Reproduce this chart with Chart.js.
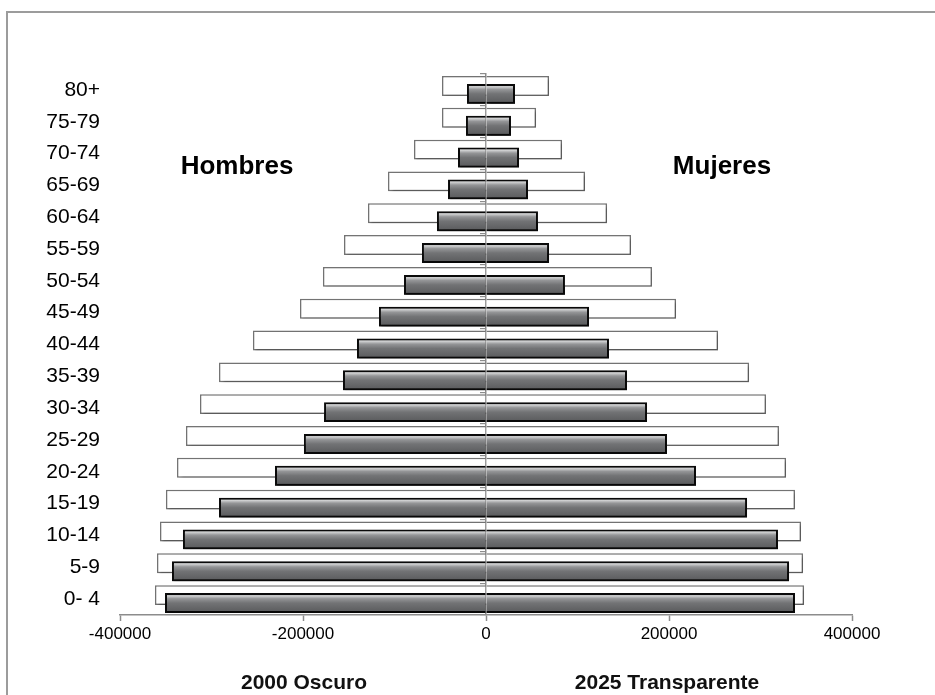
<!DOCTYPE html>
<html>
<head>
<meta charset="utf-8">
<script src="https://cdn.jsdelivr.net/npm/chart.js@4.4.1/dist/chart.umd.min.js"></script>
<style>
  html, body { margin: 0; padding: 0; background: #fff; overflow: hidden; }
  #wrap { position: relative; width: 935px; height: 695px; }
  #frame {
    position: absolute; left: 6px; top: 11px; width: 1200px; height: 1200px;
    border-left: 2px solid #9c9c9c; border-top: 2px solid #9c9c9c;
  }
  canvas { position: absolute; left: 0; top: 0; }
  .lbl {
    position: absolute; transform: translate(-50%, -50%);
    font-family: "Liberation Sans", Arial, sans-serif; font-weight: bold;
    color: #000; line-height: 1; white-space: nowrap;
  }
</style>
</head>
<body>
<div id="wrap">
  <div id="frame"></div>
  <canvas id="pyramid" width="935" height="695"></canvas>
  <div class="lbl" style="left:237px; top:165px; font-size:26px;">Hombres</div>
  <div class="lbl" style="left:722px; top:165px; font-size:26px;">Mujeres</div>
  <div class="lbl" style="left:304px; top:681px; font-size:21px; color:#111;">2000 Oscuro</div>
  <div class="lbl" style="left:667px; top:681px; font-size:21px; color:#111;">2025 Transparente</div>
</div>

<script>
/* ================= DATA ================= */
const ages = ["80+", "75-79", "70-74", "65-69", "60-64", "55-59", "50-54", "45-49",
              "40-44", "35-39", "30-34", "25-29", "20-24", "15-19", "10-14", "5-9", "0- 4"];

// 2000 (dark bars)
const men2000   = [20800, 21900, 30600, 41500, 53600, 70000, 89600, 117000,
                   141000, 156300, 177000, 199000, 230600, 291800, 331200, 343200, 350800];
const women2000 = [31700, 27300, 36100, 45900, 56800, 68900, 86300, 112600,
                   134400, 154100, 176000, 197800, 229500, 285300, 319100, 331200, 337700];

// 2025 (white bars)
const men2025   = [48100, 48100, 78700, 107100, 129000, 155200, 178200, 203300,
                   254700, 291800, 312600, 327900, 337700, 349800, 356300, 359600, 361800];
const women2025 = [68900, 54700, 83100, 108200, 132300, 158500, 181400, 207700,
                   253600, 287500, 306000, 320200, 327900, 337700, 344300, 346500, 347600];

const xTicks = [-400000, -200000, 0, 200000, 400000];

/* ================= STYLE ================= */
const CAT_PCT = 0.5;
const BAR_PCT = 2.5;
const AXIS_GRAY = "#8c8c8c";

Chart.defaults.font.family = "'Liberation Sans', Arial, sans-serif";
Chart.defaults.color = "#000";

// vertical metallic gradient for each dark bar (lower slot of the group)
function darkFill(c) {
    const chart = c.chart;
    const area = chart.chartArea;
    if (!area || !chart.scales.y) return "#6e6f71";
    const band = (area.bottom - area.top) / ages.length;
    const chunk = band * CAT_PCT / 2;
    const center = chart.scales.y.getPixelForValue(c.dataIndex) + chunk / 2;
    const half = chunk * BAR_PCT / 2;
    const g = chart.ctx.createLinearGradient(0, center - half, 0, center + half);
    g.addColorStop(0.00, "#7f8082");
    g.addColorStop(0.14, "#cfd0d1");
    g.addColorStop(0.28, "#949597");
    g.addColorStop(0.50, "#727375");
    g.addColorStop(1.00, "#58595b");
    return g;
}

/* ================= PLUGINS ================= */
function setShadow(ctx) {
    ctx.shadowColor = "rgba(0,0,0,0.3)";
    ctx.shadowOffsetX = 2;
    ctx.shadowOffsetY = 2;
    ctx.shadowBlur = 3;
}

const shadows = {
    id: "shadows",
    beforeDatasetDraw(chart) {
        chart.ctx.save();
        setShadow(chart.ctx);
    },
    afterDatasetDraw(chart) {
        chart.ctx.restore();
    },
    // dark bars sit on top of the white ones
    afterDatasetsDraw(chart) {
        const ctx = chart.ctx;
        [2, 3].forEach(i => {
            ctx.save();
            setShadow(ctx);
            chart.getDatasetMeta(i).controller.draw();
            ctx.restore();
        });
    }
};

/* ================= CHART ================= */
const white = {
    stack: "y2025",
    backgroundColor: "#ffffff",
    borderColor: "#747474",
    borderWidth: 1.5,
    categoryPercentage: CAT_PCT,
    barPercentage: BAR_PCT
};
const dark = {
    stack: "y2000",
    backgroundColor: darkFill,
    borderColor: "#0a0a0a",
    borderWidth: 2,
    categoryPercentage: CAT_PCT,
    barPercentage: BAR_PCT
};

new Chart(document.getElementById("pyramid"), {
    type: "bar",
    data: {
        labels: ages,
        datasets: [
            { ...white, label: "2025 Hombres", data: men2025.map(v => -v) },
            { ...white, label: "2025 Mujeres", data: women2025 },
            { ...dark,  label: "2000 Hombres", data: men2000.map(v => -v) },
            { ...dark,  label: "2000 Mujeres", data: women2000 }
        ]
    },
    options: {
        indexAxis: "y",
        responsive: false,
        animation: false,
        layout: { padding: { top: 74, right: 83, bottom: 50, left: 0 } },
        plugins: { legend: { display: false }, tooltip: { enabled: false } },
        scales: {
            x: {
                type: "linear",
                stacked: true,
                min: xTicks[0],
                max: xTicks[xTicks.length - 1],
                afterBuildTicks: s => { s.ticks = xTicks.map(v => ({ value: v })); },
                afterFit: s => { s.height = 30; },
                ticks: {
                    font: { size: 17 },
                    color: "#000",
                    padding: 3,
                    maxRotation: 0,
                    callback: v => String(v)
                },
                grid: {
                    drawOnChartArea: false,
                    color: AXIS_GRAY,
                    tickLength: 6,
                    tickWidth: 1.5
                },
                border: { color: AXIS_GRAY, width: 1.5 }
            },
            y: {
                type: "category",
                stacked: true,
                offset: true,
                afterFit: s => { s.width = 120; },
                grid: { display: false, drawTicks: false },
                border: { display: false },
                ticks: { font: { size: 21 }, color: "#000", padding: 20 }
            },
            y2: {
                type: "category",
                labels: ages,
                position: { x: 0 },
                offset: true,
                z: 1,
                ticks: { display: false },
                grid: {
                    offset: true,
                    drawOnChartArea: false,
                    color: AXIS_GRAY,
                    tickLength: 5,
                    lineWidth: 1.2
                },
                border: { color: AXIS_GRAY, width: 1.5 }
            }
        }
    },
    plugins: [shadows]
});
</script>
</body>
</html>
